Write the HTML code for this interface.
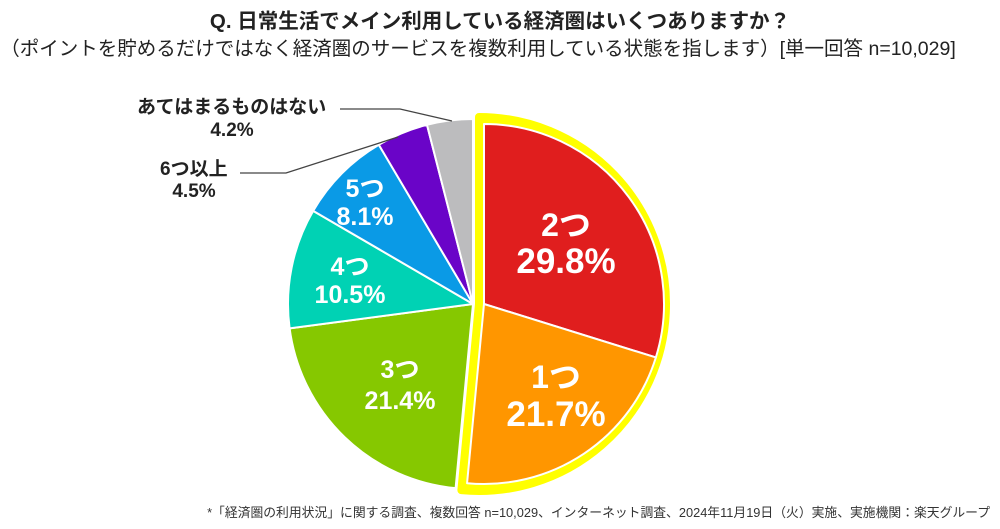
<!DOCTYPE html>
<html><head><meta charset="utf-8"><style>
html,body{margin:0;padding:0;background:#fff;}
svg{display:block;font-family:"Liberation Sans","Noto Sans CJK JP",sans-serif;}
</style></head><body>
<svg id="s" width="1000" height="529" viewBox="0 0 1000 529">
<text x="500" y="28" text-anchor="middle" font-size="20.5" font-weight="bold" fill="#222">Q. 日常生活でメイン利用している経済圏はいくつありますか？</text>
<text x="478" y="55" text-anchor="middle" font-size="19.5" fill="#222">（ポイントを貯めるだけではなく経済圏のサービスを複数利用している状態を指します）[単一回答 n=10,029]</text>
<g id="pie"></g>
<polyline points="340,109 400,109 452,121" fill="none" stroke="#444" stroke-width="1.3"/>
<polyline points="240,173 286,173 398,137" fill="none" stroke="#444" stroke-width="1.3"/>
<g font-weight="bold" fill="#222" font-size="19">
<text x="137" y="113">あてはまるものはない</text>
<text x="232" y="136" text-anchor="middle">4.2%</text>
<text x="160" y="175">6つ以上</text>
<text x="194" y="197" text-anchor="middle">4.5%</text>
</g>
<g font-weight="bold" fill="#fff" text-anchor="middle">
<text x="566" y="236" font-size="32">2つ</text>
<text x="566" y="273" font-size="35">29.8%</text>
<text x="556" y="388" font-size="32">1つ</text>
<text x="556" y="426" font-size="35">21.7%</text>
<text x="400" y="378" font-size="25">3つ</text>
<text x="400" y="409" font-size="25">21.4%</text>
<text x="350" y="275" font-size="25">4つ</text>
<text x="350" y="303" font-size="25">10.5%</text>
<text x="365" y="197" font-size="25">5つ</text>
<text x="365" y="225" font-size="25">8.1%</text>
</g>
<text x="990" y="517" text-anchor="end" font-size="12.8" fill="#333">*「経済圏の利用状況」に関する調査、複数回答 n=10,029、インターネット調査、2024年11月19日（火）実施、実施機関：楽天グループ</text>
</svg>
<script>
(function(){
var NS="http://www.w3.org/2000/svg",g=document.getElementById("pie");
function pt(cx,cy,r,a){var t=a*Math.PI/180;return [cx+r*Math.sin(t),cy-r*Math.cos(t)];}
function sec(cx,cy,r,a0,a1){var p=pt(cx,cy,r,a0),q=pt(cx,cy,r,a1);var l=(a1-a0)>180?1:0;
return "M"+cx+","+cy+"L"+p[0]+","+p[1]+"A"+r+","+r+" 0 "+l+" 1 "+q[0]+","+q[1]+"Z";}
function add(d,f,s,w){var e=document.createElementNS(NS,"path");e.setAttribute("d",d);e.setAttribute("fill",f);
if(s){e.setAttribute("stroke",s);e.setAttribute("stroke-width",w);e.setAttribute("stroke-linejoin","round");}g.appendChild(e);}
var cx=473,cy=304,r=185;
var data=[[185.4,262.44,"#86c800"],[262.44,300.24,"#00d2b4"],[300.24,329.4,"#0a9ae6"],[329.4,345.6,"#6a04c8"],[345.6,360,"#bcbcbe"]];
data.forEach(function(d){add(sec(cx,cy,r,d[0],d[1]),d[2],"#fff",2);});
add(sec(479,304,187,0,185.4),"#ffff00","#ffff00",8);
add(sec(484,304,180,0,107.28),"#e01e1e","#fff",2);
add(sec(484,304,180,107.28,185.4),"#ff9600","#fff",2);
})();
</script>
</body></html>
